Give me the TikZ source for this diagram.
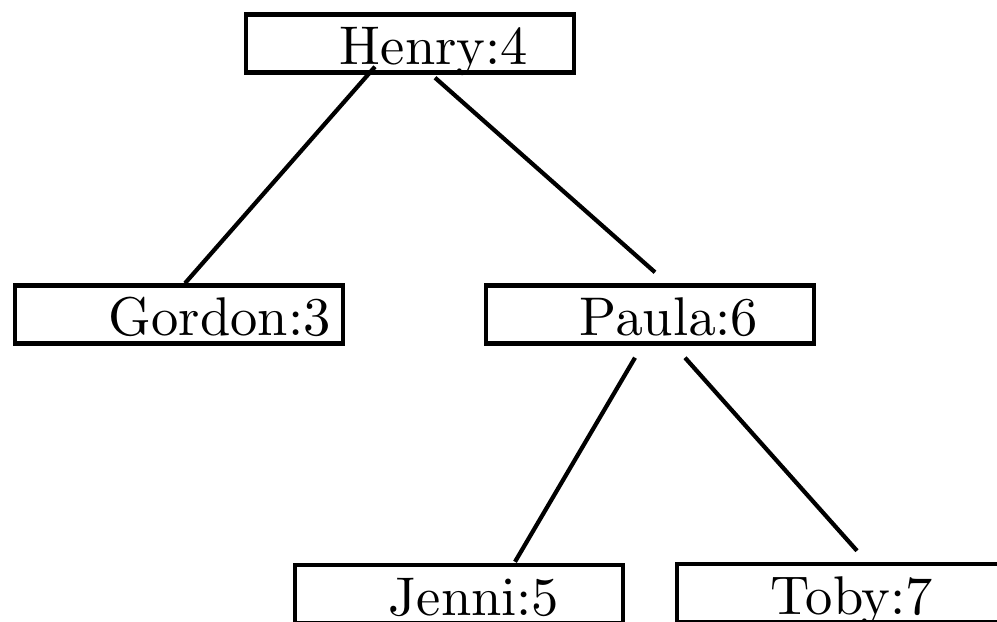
\documentclass[tikz,border=0pt]{standalone}
\usepackage{tikz}
\usetikzlibrary{calc}

\font\treefont=cmr10 at 15.5pt

\begin{document}
\begin{tikzpicture}[
    x=0.01cm, y=-0.01cm,
    box/.style={rectangle, draw, line width=1.25pt, inner xsep=0pt, inner ysep=0pt,
        text width=3.28cm, align=left, text height=0.5cm, text depth=0.08cm,
        minimum height=0.58cm, font=\treefont,
        execute at begin node=\hspace*{0.94cm}},
    edge/.style={line width=1.2pt}
]
    \useasboundingbox (0,0) rectangle (997,622);
    \node[box] (henry) at (410,43.5) {Henry:4};
    \node[box] (gordon) at (179,314.5) {Gordon:3};
    \node[box] (paula) at (650,314.5) {Paula:6};
    \node[box] (jenni) at (459,594) {Jenni:5};
    \node[box] (toby) at (841,593) {Toby:7};

    \draw[edge] ($(henry.south)+(-35,-8)$) -- ($(gordon.north)+(6,0)$);
    \draw[edge] ($(henry.south)+(25,3)$) -- ($(paula.north)+(5,-11)$);
    \draw[edge] ($(paula.south)+(-15,12)$) -- ($(jenni.north)+(56,-1)$);
    \draw[edge] ($(paula.south)+(35,12)$) -- ($(toby.north)+(16,-11)$);
\end{tikzpicture}
\end{document}
